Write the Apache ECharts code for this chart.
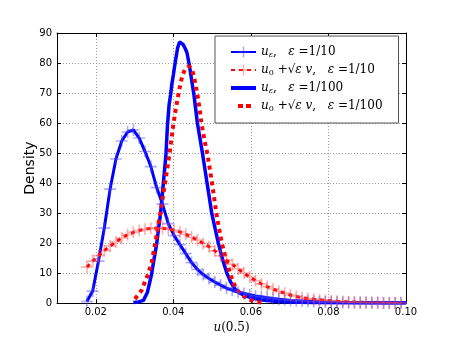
<!DOCTYPE html>
<html>
<head>
<meta charset="utf-8">
<script src="https://cdn.jsdelivr.net/npm/echarts@6/dist/echarts.min.js"></script>
<style>
html,body{margin:0;padding:0;background:#fff}
#main{width:450px;height:339px}
</style>
</head>
<body>
<div id="main"></div>
<script>
// bin centres shared by the two eps=1/10 histograms
var xBins = [0.0177,0.0192,0.0207,0.0222,0.0237,0.0252,0.0267,0.0282,0.0297,0.0312,
    0.0327,0.0342,0.0357,0.0372,0.0387,0.0402,0.0417,0.0432,0.0447,0.0462,
    0.0477,0.0492,0.0507,0.0522,0.0537,0.0552,0.0567,0.0582,0.0597,0.0612,
    0.0627,0.0642,0.0657,0.0672,0.0687,0.0702,0.0717,0.0732,0.0747,0.0762,
    0.0777,0.0792,0.0807,0.0822,0.0837,0.0852,0.0867,0.0882,0.0897,0.0912,
    0.0927,0.0942,0.0957,0.0972,0.0987,0.1002];
// u_eps, eps = 1/10
var uEps10 = [0.5,4,14,25,38,48,54,57,57.7,55,
    50.5,45.5,38.5,33,26.5,22.5,19.5,16.5,13.5,11.2,
    9.5,8.2,7.0,6.0,5.0,4.3,3.7,3.2,2.8,2.4,
    2.1,1.8,1.5,1.3,1.1,0.9,0.8,0.7,0.6,0.5,
    0.4,0.35,0.3,0.25,0.2,0.18,0.15,0.12,0.1,0.1,
    0.08,0.07,0.06,0.05,0.05,0.05];
// u0 + sqrt(eps) v, eps = 1/10
var uLin10 = [12.0,14.0,15.8,17.5,19.0,20.4,21.7,22.8,23.6,24.2,
    24.6,24.9,25.0,24.9,24.7,24.3,23.7,22.9,22.0,21.0,
    19.9,18.8,17.4,15.8,14.3,12.9,11.4,10.0,8.7,7.5,
    6.4,5.5,4.7,3.9,3.3,2.7,2.2,1.8,1.5,1.3,
    1.1,0.9,0.8,0.6,0.5,0.4,0.35,0.3,0.25,0.2,
    0.2,0.15,0.15,0.1,0.1,0.1];
// u_eps, eps = 1/100  [x, density]
var uEps100 = [[0.0297,0.2],[0.0310,0.4],[0.0323,0.9],[0.0333,3.5],[0.0344,9.7],[0.0350,14.5],
    [0.0357,19.7],[0.0362,25],[0.0367,29.7],[0.0374,39.6],[0.0381,49.6],[0.0385,59.5],
    [0.0389,66],[0.0393,69.5],[0.0396,72.8],[0.0400,76],[0.0404,79.5],[0.0411,85],
    [0.0416,87],[0.0420,87.6],[0.0425,86.2],[0.0430,85],[0.0435,83.5],[0.0441,79.5],
    [0.0447,74.5],[0.0453,69.5],[0.0462,60],[0.0475,50],[0.0487,40],[0.0499,30],
    [0.0516,20],[0.0527,14.5],[0.0538,10],[0.0548,7],[0.0559,4.7],[0.0572,3.3],
    [0.0585,2.5],[0.0605,1.6],[0.0630,1.0],[0.0660,0.6],[0.0700,0.35],[0.0750,0.2],
    [0.0820,0.1],[0.0900,0.05],[0.1000,0.02]];
// u0 + sqrt(eps) v, eps = 1/100  [x, density]
var uLin100 = [[0.0301,1.4],[0.0318,4.2],[0.0335,9.7],[0.0344,13.5],[0.0353,19.7],[0.0360,25],
    [0.0366,29.7],[0.0372,34.5],[0.0378,39.6],[0.0384,44.5],[0.0390,49.6],[0.0395,54.5],
    [0.0400,59.5],[0.0406,64.5],[0.0413,69.5],[0.0419,73.5],[0.0424,76.2],[0.0432,78.3],
    [0.0441,78.9],[0.0447,78],[0.0452,76.2],[0.0457,73],[0.0462,69.5],[0.0468,64.5],
    [0.0473,59.5],[0.0480,54.5],[0.0488,49.6],[0.0500,39.8],[0.0511,29.8],[0.0518,24.8],
    [0.0525,20],[0.0535,15],[0.0546,10],[0.0554,7],[0.0563,4.7],[0.0575,2.8],
    [0.0593,1.4],[0.0610,0.5],[0.0630,0.1]];
var xTicks = [0.02,0.04,0.06,0.08,0.10];
var seriesNames = ['uEps10','uLin10','uEps100','uLin100'];
var legendText = {
    uEps10: '{it|u}{sub|ε}{n|,   }{it|ε}{n| =1/10}',
    uLin10: '{it|u}{sub0|0}{n| +√}{it|ε v}{n|,   }{it|ε}{n| =1/10}',
    uEps100: '{it|u}{sub|ε}{n|,   }{it|ε}{n| =1/100}',
    uLin100: '{it|u}{sub0|0}{n| +√}{it|ε v}{n|,   }{it|ε}{n| =1/100}'
};

var plus = 'path://M5,0h1.6v5h5v1.6h-5v5h-1.6v-5h-5v-1.6h5z';
// legend icons for the plain lines (tiny corner specks fix the icon box to 25x4)
var solidIcon = 'path://M0,0h25v4h-25z';
var dotIcon = 'path://M0,0h0.01v0.01h-0.01z M7,0h5v4h-5z M15,0h5v4h-5z M24.99,3.99h0.01v0.01h-0.01z';

function zip(xs, ys){
    var out = [];
    for(var i=0;i<xs.length;i++) out.push([xs[i], ys[i]]);
    return out;
}

var myChart = echarts.init(document.getElementById('main'));
var tickStyle = {show:true, inside:true, length:4, lineStyle:{color:'#000', width:1}};
var axisFont = {fontFamily:'DejaVu Sans', fontSize:10, color:'#000'};

myChart.setOption({
    animation: false,
    backgroundColor: '#fff',
    grid: {left:57, right:44, top:33, bottom:35},
    legend: {
        data: [
            {name: seriesNames[0]},
            {name: seriesNames[1]},
            {name: seriesNames[2], icon: solidIcon},
            {name: seriesNames[3], icon: dotIcon}
        ],
        orient: 'vertical',
        left: 215, top: 36,
        padding: [10, 16, 10, 15],
        itemGap: 5,
        itemWidth: 25, itemHeight: 14,
        backgroundColor: '#fff',
        borderColor: '#555', borderWidth: 1, borderRadius: 0,
        selectedMode: false,
        formatter: function(name){ return legendText[name]; },
        textStyle: {
            color:'#000', fontFamily:'DejaVu Serif', fontSize:12,
            rich: {
                it: {fontFamily:'DejaVu Serif', fontStyle:'italic', fontSize:12},
                n: {fontFamily:'DejaVu Serif', fontSize:12},
                sub: {fontFamily:'DejaVu Serif', fontStyle:'italic', fontSize:8, padding:[6,0,0,0]},
                sub0: {fontFamily:'DejaVu Serif', fontSize:8, padding:[6,0,0,0]}
            }
        }
    },
    xAxis: [{
        type:'value', min:0.01, max:0.10,
        name:'{it|u}(0.5)', nameLocation:'middle', nameGap:13,
        nameTextStyle:{fontFamily:'DejaVu Serif', fontSize:12, color:'#000',
            rich:{it:{fontFamily:'DejaVu Serif', fontStyle:'italic', fontSize:12}}},
        axisLine:{show:true, onZero:false, lineStyle:{color:'#000', width:1}},
        axisTick: Object.assign({customValues:xTicks}, tickStyle),
        axisLabel: Object.assign({customValues:xTicks, margin:4,
            formatter:function(v){ return v.toFixed(2); }}, axisFont),
        splitLine:{show:true, lineStyle:{color:'#999', type:[1,2], width:1}}
    }, {
        type:'value', min:0.01, max:0.10, position:'top',
        axisLine:{show:true, onZero:false, lineStyle:{color:'#000', width:1}},
        axisTick: Object.assign({customValues:xTicks}, tickStyle),
        axisLabel:{show:false},
        splitLine:{show:false}
    }],
    yAxis: [{
        type:'value', min:0, max:90, interval:10,
        name:'Density', nameLocation:'middle', nameGap:20, nameMoveOverlap:false,
        nameTextStyle:{fontFamily:'DejaVu Sans', fontSize:14, color:'#000'},
        axisLine:{show:true, onZero:false, lineStyle:{color:'#000', width:1}},
        axisTick: tickStyle,
        axisLabel: Object.assign({margin:5}, axisFont),
        splitLine:{show:true, lineStyle:{color:'#999', type:[1,2], width:1}}
    }, {
        type:'value', min:0, max:90, interval:10, position:'right',
        axisLine:{show:true, onZero:false, lineStyle:{color:'#000', width:1}},
        axisTick: tickStyle,
        axisLabel:{show:false},
        splitLine:{show:false}
    }],
    series: [{
        name:'uEps10', type:'line', data: zip(xBins, uEps10),
        symbol: plus, symbolSize: 12, showSymbol: true,
        itemStyle:{color:'rgba(70,70,255,0.45)'},
        lineStyle:{color:'#0000ff', width:3},
        emphasis:{disabled:true}
    }, {
        name:'uLin10', type:'line', data: zip(xBins, uLin10),
        symbol: plus, symbolSize: 12, showSymbol: true,
        itemStyle:{color:'rgba(255,60,60,0.4)'},
        lineStyle:{color:'#ff0000', width:3, type:[4,4]},
        emphasis:{disabled:true}
    }, {
        name:'uEps100', type:'line', data: uEps100,
        symbol:'none',
        itemStyle:{color:'#0000ff'},
        lineStyle:{color:'#0000ff', width:3.5},
        emphasis:{disabled:true}
    }, {
        name:'uLin100', type:'line', data: uLin100,
        symbol:'none',
        itemStyle:{color:'#ff0000'},
        lineStyle:{color:'#ff0000', width:4, type:[4,4]},
        emphasis:{disabled:true}
    }]
});
</script>
</body>
</html>
